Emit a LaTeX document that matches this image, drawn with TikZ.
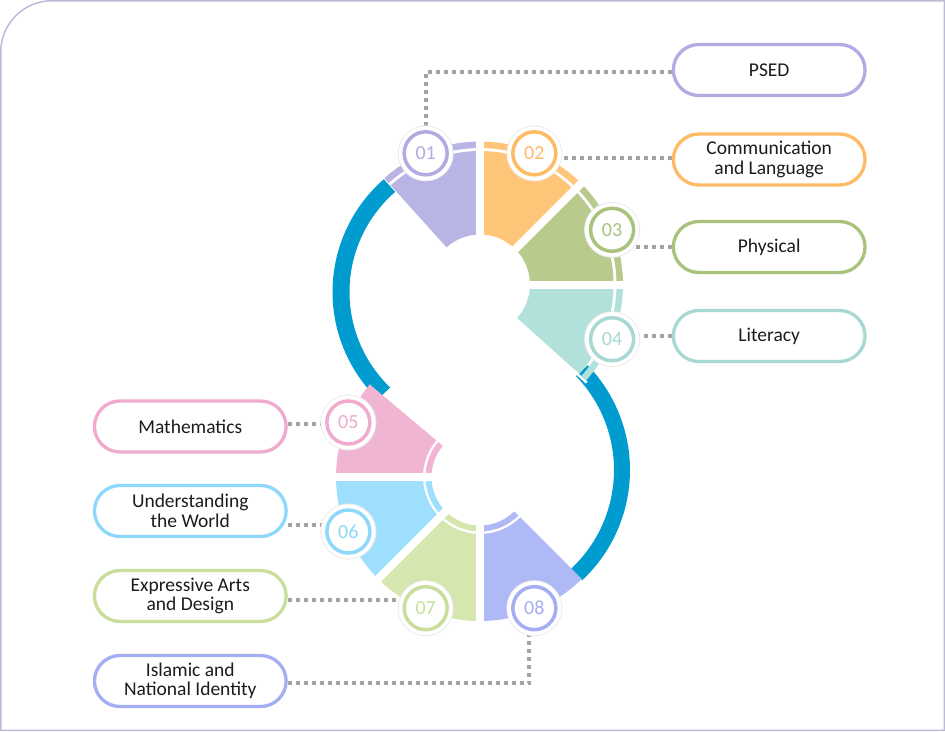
\documentclass[tikz,border=0pt]{standalone}
\usepackage{fontspec}
\setmainfont{Carlito}
\usetikzlibrary{backgrounds}
\definecolor{cA}{HTML}{B8B4E4}
\definecolor{cB}{HTML}{FFC679}
\definecolor{cC}{HTML}{B8CB8C}
\definecolor{cD}{HTML}{B2E0DA}
\definecolor{cE}{HTML}{F1B5D4}
\definecolor{cF}{HTML}{9EDFFE}
\definecolor{cG}{HTML}{D5E6AE}
\definecolor{cH}{HTML}{AEB9F6}
\definecolor{nA}{HTML}{B1ABE2}
\definecolor{nB}{HTML}{FFBA66}
\definecolor{nC}{HTML}{A9C27C}
\definecolor{nD}{HTML}{A7D9D2}
\definecolor{nE}{HTML}{EFAACD}
\definecolor{nF}{HTML}{8ED8FC}
\definecolor{nG}{HTML}{C9DE9C}
\definecolor{nH}{HTML}{A4AEF3}
\definecolor{ringc}{HTML}{009BCF}
\definecolor{framec}{HTML}{BBBBD6}
\definecolor{dotc}{HTML}{A3A3A3}
\definecolor{txt}{HTML}{1C1C1C}
\newcommand\labfont{\fontsize{19.5}{19.5}\selectfont}
\newcommand\numfont{\fontsize{20}{20}\selectfont}
\newcommand\wedgeseg[6]{\fill[#6] ([shift={(#1)}]#2:#5) arc[start angle=#2,end angle=#3,radius=#5] -- ([shift={(#1)}]#3:#4) arc[start angle=#3,end angle=#2,radius=#4] -- cycle;}
\begin{document}
\begin{tikzpicture}[x=1pt,y=1pt,
  dots/.style={draw=dotc,line width=4pt,dash pattern=on 4pt off 4pt},
  pill/.style={draw=#1,line width=3.3pt,fill=white,rounded corners=25.5pt,minimum width=191.7pt,minimum height=51pt,inner sep=0pt,align=center,font=\labfont,text=txt},
  numc/.style={circle,draw=#1,line width=3.5pt,fill=white,minimum size=43pt,inner sep=0pt,text=#1,font=\numfont,preaction={draw=black!8,line width=13pt},preaction={draw=white,line width=11pt}},
  strip/.style={draw=white,line width=8pt}]
\useasboundingbox (0,0) rectangle (945,-731);
\draw[framec,line width=1.5pt] (0.75,-730.25) -- (0.75,-52) arc[start angle=180,end angle=90,radius=51.25] -- (944.25,-0.75) -- (944.25,-730.25) -- cycle;
\coordinate (U) at (480,-284.5);
\coordinate (L) at (480,-477);
\coordinate (UB) at (482,-292);
\coordinate (LB) at (479,-470);
% blue S
\draw[ringc,line width=17pt] ([shift={(UB)}]131:141) arc[start angle=131,end angle=226,radius=141];
\draw[ringc,line width=16pt] ([shift={(LB)}]-47:143) arc[start angle=-47,end angle=44,radius=143];
% upper wedges
\wedgeseg{U}{90}{132}{50}{133.5}{cA}
\wedgeseg{U}{90}{132}{136.5}{143}{cA}
\wedgeseg{U}{45}{90}{50}{133.5}{cB}
\wedgeseg{U}{45}{90}{136.5}{143}{cB}
\wedgeseg{U}{0}{45}{50}{133.5}{cC}
\wedgeseg{U}{0}{45}{136.5}{143}{cC}
\wedgeseg{U}{-42}{0}{50}{133.5}{cD}
\wedgeseg{U}{-42}{0}{136.5}{143}{cD}
\draw[strip] ([shift={(U)}]0:40) -- ([shift={(U)}]0:150);
\draw[strip] ([shift={(U)}]45:40) -- ([shift={(U)}]45:150);
\draw[strip] ([shift={(U)}]90:40) -- ([shift={(U)}]90:150);
\draw[white,line width=2.5pt] ([shift={(U)}]-42.6:128) -- ([shift={(U)}]-42.6:145);
% lower wedges
\wedgeseg{L}{140}{180}{57}{144}{cE}
\wedgeseg{L}{140}{180}{48.5}{54.5}{cE}
\wedgeseg{L}{180}{225}{57}{144}{cF}
\wedgeseg{L}{180}{225}{48.5}{54.5}{cF}
\wedgeseg{L}{225}{270}{57}{144}{cG}
\wedgeseg{L}{225}{270}{48.5}{54.5}{cG}
\wedgeseg{L}{270}{315}{57}{144}{cH}
\wedgeseg{L}{270}{315}{48.5}{54.5}{cH}
\draw[strip] ([shift={(L)}]180:40) -- ([shift={(L)}]180:152);
\draw[strip] ([shift={(L)}]225:40) -- ([shift={(L)}]225:152);
\draw[strip] ([shift={(L)}]270:40) -- ([shift={(L)}]270:152);
% pills
\node[pill=nA] (psed) at (769.2,-70) {PSED};
\node[pill=nB] (comm) at (769.2,-159.5) {Communication\\and Language};
\node[pill=nC] (phys) at (769.2,-247) {Physical};
\node[pill=nD] (lit) at (769.2,-336) {Literacy};
\node[pill=nE] (math) at (190.3,-426.5) {Mathematics};
\node[pill=nF] (und) at (190.3,-511) {Understanding\\the World};
\node[pill=nG] (exp) at (190.3,-596) {Expressive Arts\\and Design};
\node[pill=nH] (isl) at (190.3,-681) {Islamic and\\National Identity};
% number circles
\node[numc=nA] (c01) at ([shift={(U)}]112.5:142) {01};
\node[numc=nB] (c02) at ([shift={(U)}]67.5:142) {02};
\node[numc=nC] (c03) at ([shift={(U)}]22.5:143) {03};
\node[numc=nD] (c04) at ([shift={(U)}]-22.5:143) {04};
\node[numc=nE] (c05) at ([shift={(L)}]157.5:142.5) {05};
\node[numc=nF] (c06) at ([shift={(L)}]202.5:142.5) {06};
\node[numc=nG] (c07) at ([shift={(L)}]247.5:142) {07};
\node[numc=nH] (c08) at ([shift={(L)}]292.5:142) {08};
% connectors (behind everything)
\begin{pgfonlayer}{background}
\draw[dots] ([yshift=-2pt]psed.west) -| (c01.center);
\draw[dots] ([yshift=1.5pt]comm.west) -- ([yshift=1.5pt]comm.west -| c02.center);
\draw[dots] (phys.west) -- (phys.west -| c03.center);
\draw[dots] (lit.west) -- (lit.west -| c04.center);
\draw[dots] ([yshift=3pt]math.east) -- ([yshift=3pt]math.east -| c05.center);
\draw[dots] ([yshift=-14pt]und.east) -- ([yshift=-14pt]und.east -| c06.center);
\draw[dots] ([yshift=-4pt]exp.east) -- ([yshift=-4pt]exp.east -| c07.center);
\draw[dots] ([yshift=-2pt]isl.east) -| ([xshift=-5pt]c08.center);
\end{pgfonlayer}
\end{tikzpicture}
\end{document}
